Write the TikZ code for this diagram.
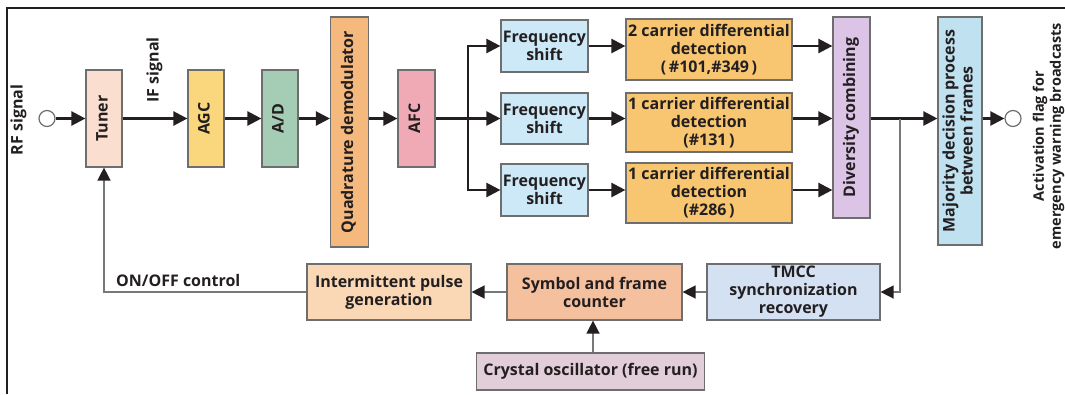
\documentclass[tikz,border=0pt]{standalone}
\usepackage{fontspec}
\setmainfont{Open Sans}
\usepackage{graphicx}
\usetikzlibrary{arrows.meta, calc}
\definecolor{ewstext}{RGB}{35, 31, 32}
\definecolor{ewsedge}{RGB}{110, 110, 110}
\definecolor{ewsgray}{RGB}{120, 120, 120}
\definecolor{ewstuner}{RGB}{250, 222, 208}
\definecolor{ewsagc}{RGB}{250, 215, 125}
\definecolor{ewsad}{RGB}{165, 205, 182}
\definecolor{ewsqdem}{RGB}{245, 185, 125}
\definecolor{ewsafc}{RGB}{240, 170, 182}
\definecolor{ewsshift}{RGB}{205, 232, 247}
\definecolor{ewsdet}{RGB}{248, 198, 112}
\definecolor{ewsdiv}{RGB}{220, 196, 230}
\definecolor{ewsmaj}{RGB}{192, 225, 240}
\definecolor{ewspulse}{RGB}{250, 216, 182}
\definecolor{ewssym}{RGB}{245, 192, 158}
\definecolor{ewstmcc}{RGB}{212, 225, 243}
\definecolor{ewsxtal}{RGB}{226, 206, 216}
\newcommand{\vtxt}[1]{\rotatebox{90}{\begin{tabular}{@{}c@{}}#1\end{tabular}}}

\begin{document}
\begin{tikzpicture}[x=1pt, y=-1pt,
    blk/.style={draw=ewsedge, line width=1.2pt, text=ewstext, inner sep=0pt,
        align=center, font=\bfseries\fontsize{16}{18}\selectfont},
    lbl/.style={text=ewstext, inner sep=0pt, font=\bfseries\fontsize{16}{18}\selectfont},
    port/.style={circle, draw=ewsedge, line width=1.2pt, fill=white,
        minimum size=16pt, inner sep=0pt},
    sig/.style={line width=2.4pt, ewstext, -{Triangle[length=14pt, width=14pt]}},
    ctl/.style={line width=1.5pt, ewsgray, -{Triangle[length=13pt, width=13pt, color=ewstext]}}]

\useasboundingbox (0,0) rectangle (1065,394);

% ============================================================
% MARCO
% ============================================================
\draw[line width=1.5pt, ewstext] (7,394) -- (7,8) -- (1065,8);

% ============================================================
% CADENA DE RECEPCION (fila superior)
% ============================================================

% --- Entrada RF ---
\node[port] (rfin) at (47,118.5) {};
\node[lbl] (rflbl) at (19,120) {\vtxt{RF signal}};

% --- Sintonizador y etapas ---
\node[blk, fill=ewstuner, minimum width=36pt, minimum height=97pt] (tuner) at (104,118.5) {\vtxt{Tuner}};
\node[lbl] (iflbl) at (155,70) {\vtxt{IF signal}};
\node[blk, fill=ewsagc, minimum width=36pt, minimum height=97pt] (agc) at (206,118.5) {\vtxt{AGC}};
\node[blk, fill=ewsad, minimum width=36pt, minimum height=97pt] (ad) at (280,118.5) {\vtxt{A/D}};
\node[blk, fill=ewsqdem, minimum width=38pt, minimum height=230pt] (qdem) at (349.5,132) {\vtxt{Quadrature demodulator}};
\node[blk, fill=ewsafc, minimum width=37pt, minimum height=97pt] (afc) at (416.5,118.5) {\vtxt{AFC}};

% --- Tres ramas ---
\coordinate (fork) at (468,118.5);
\node[blk, fill=ewsshift, minimum width=87pt, minimum height=52pt] (fs1) at (544.5,46) {Frequency\\shift};
\node[blk, fill=ewsshift, minimum width=87pt, minimum height=51pt] (fs2) at (544.5,118.5) {Frequency\\shift};
\node[blk, fill=ewsshift, minimum width=87pt, minimum height=52pt] (fs3) at (544.5,190) {Frequency\\shift};
\node[blk, fill=ewsdet, minimum width=166pt, minimum height=61pt] (det1) at (709,49.5) {2 carrier differential\\detection\\(\,\#101,\#349\,)};
\node[blk, fill=ewsdet, minimum width=166pt, minimum height=59pt] (det2) at (709,122.5) {1 carrier differential\\detection\\(\#131\,)};
\node[blk, fill=ewsdet, minimum width=166pt, minimum height=60pt] (det3) at (709,193) {1 carrier differential\\detection\\(\#286\,)};

% --- Combinacion y decision ---
\node[blk, fill=ewsdiv, minimum width=37pt, minimum height=201pt] (div) at (851.5,117.5) {\vtxt{Diversity combining}};
\coordinate (tap) at (900,118.5);
\node[blk, fill=ewsmaj, minimum width=44pt, minimum height=228pt] (maj) at (960,131) {\vtxt{Majority decision process\\between frames}};
\node[port] (outc) at (1013,118.5) {};
\node[lbl, font=\bfseries\fontsize{14.5}{17}\selectfont] (actlbl) at (1049,136) {\vtxt{Activation flag for\\emergency warning broadcasts}};

% --- Conexiones de senal ---
\draw[sig] (rfin) -- (tuner);
\draw[sig] (tuner) -- (agc);
\draw[sig] (agc) -- (ad);
\draw[sig] (ad) -- (ad -| qdem.west);
\draw[sig] (qdem.east |- afc) -- (afc);
\draw[line width=2.4pt, ewstext] (afc) -- (fork);
\draw[sig] (fork) |- (fs1);
\draw[sig] (fork) -- (fs2);
\draw[sig] (fork) |- (fs3);
\draw[sig] (fs1) -- (fs1 -| det1.west);
\draw[sig] (fs2) -- (fs2 -| det2.west);
\draw[sig] (fs3) -- (fs3 -| det3.west);
\draw[sig] (det1.east |- fs1) -- (div.west |- fs1);
\draw[sig] (det2.east |- fs2) -- (div.west |- fs2);
\draw[sig] (det3.east |- fs3) -- (div.west |- fs3);
\draw[sig] (div.east |- tap) -- (maj.west |- tap);
\draw[sig] (maj.east |- outc) -- (outc);

% ============================================================
% LAZO DE CONTROL (fila inferior)
% ============================================================
\node[blk, fill=ewspulse, minimum width=164pt, minimum height=56pt] (pulse) at (389,292) {Intermittent pulse\\generation};
\node[blk, fill=ewssym, minimum width=175pt, minimum height=56pt] (sym) at (594.5,292) {Symbol and frame\\counter};
\node[blk, fill=ewstmcc, minimum width=173pt, minimum height=56pt] (tmcc) at (793.5,292) {TMCC\\synchronization\\recovery};
\node[blk, fill=ewsxtal, minimum width=228pt, minimum height=37pt] (xtal) at (590.5,371.5) {Crystal oscillator (free run)};
\node[lbl, anchor=west] (onoff) at (116,280) {ON/OFF control};

\draw[ctl] (tap) |- (tmcc);
\draw[ctl] (tmcc) -- (sym);
\draw[ctl] (sym) -- (pulse);
\draw[ctl] (pulse) -| (tuner);
\draw[ctl] (xtal.north -| 593,0) -- (sym.south -| 593,0);

\end{tikzpicture}
\end{document}
